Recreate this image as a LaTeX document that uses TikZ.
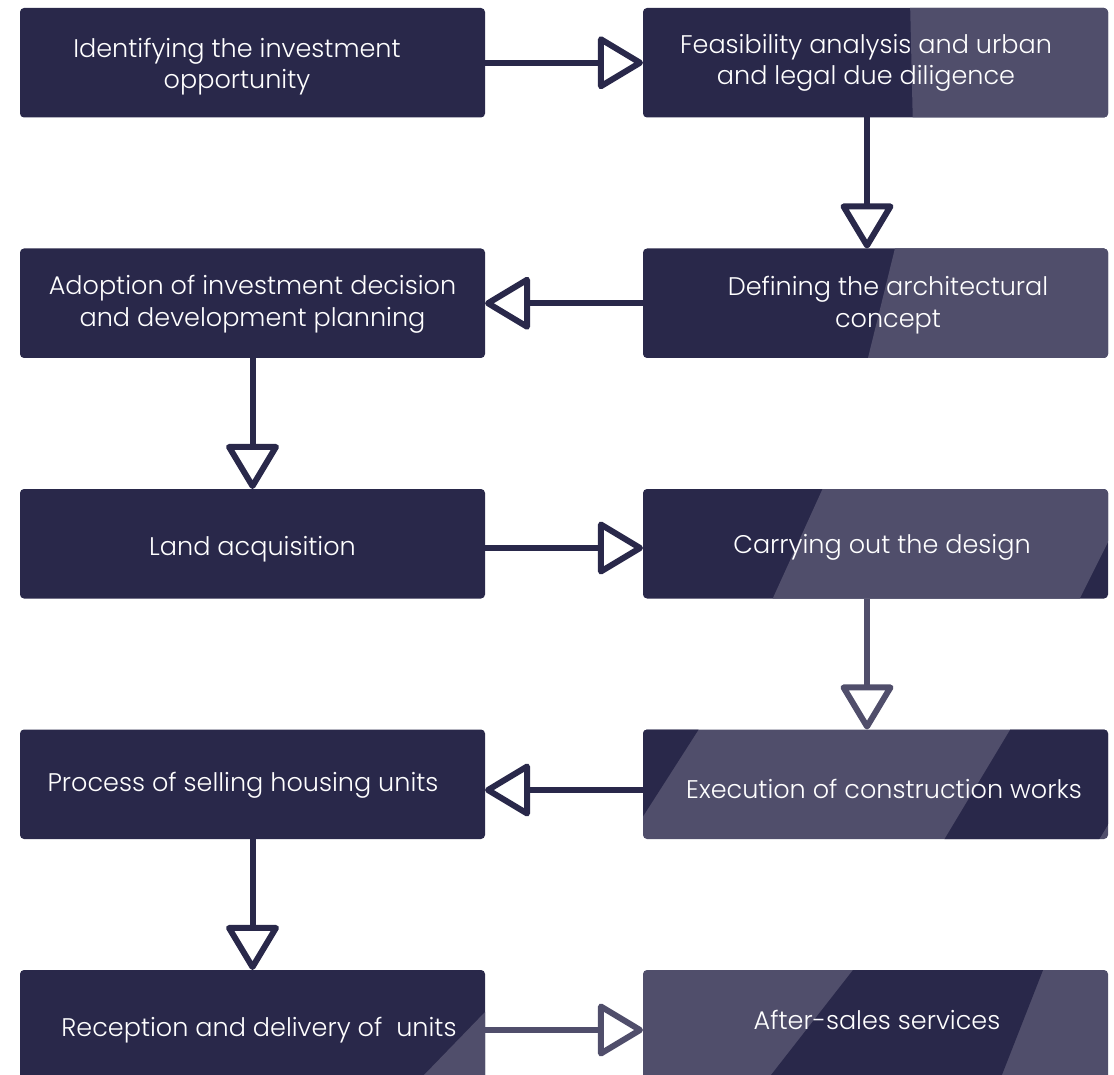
\documentclass[tikz,border=0pt]{standalone}
\usepackage{fontspec}
\IfFontExistsTF{Poppins Light}{\setmainfont{Poppins Light}}{\setmainfont{Poppins}}
\usepackage{tikz}
\usetikzlibrary{arrows.meta,positioning}
\usepackage{xcolor}
\definecolor{flownavy}{RGB}{41,40,74}
\definecolor{flowslate}{RGB}{80,78,107}
\tikzstyle{stage} = [rectangle, rounded corners=4pt, minimum width=465pt, minimum height=109.5pt, inner sep=0pt, outer sep=0pt, fill=flownavy]
\tikzstyle{stagelight} = [stage, fill=flowslate]
\tikzstyle{stagetext} = [text=white, align=center, inner sep=0pt, font=\fontsize{25.5pt}{31.5pt}\selectfont]
\tikzstyle{flow} = [line width=6pt, -{Triangle[open, round, length=48pt, width=56pt]}, color=flownavy]
\tikzstyle{flowlight} = [flow, color=flowslate]
\newcommand{\stagepatch}[3][flowslate]{%
  \begin{scope}
    \clip[rounded corners=4pt] (#2.north west) rectangle (#2.south east);
    \fill[#1] #3;
  \end{scope}}

\begin{document}
\begin{tikzpicture}[x=1pt, y=-1pt]
\useasboundingbox (0,0) rectangle (1114,1075);
\clip (0,0) rectangle (1114,1075);

% Left column
\node (spot) [stage] at (252.5,62.75) {};
\node (decision) [stage, below=131pt of spot] {};
\node (land) [stage, below=131pt of decision] {};
\node (selling) [stage, below=131pt of land] {};
\node (handover) [stage, below=131pt of selling] {};

% Right column
\node (study) [stage, right=158pt of spot] {};
\node (concept) [stage, below=131pt of study] {};
\node (design) [stage, below=131pt of concept] {};
\node (works) [stagelight, below=131pt of design] {};
\node (aftercare) [stagelight, below=131pt of works] {};

% Diagonal bands
\stagepatch{study}{(910,0) -- (1120,0) -- (1120,130) -- (913,130) -- cycle}
\stagepatch{concept}{(897,240) -- (1120,240) -- (1120,370) -- (865,370) -- cycle}
\stagepatch{design}{(826.6,480) -- (1120,480) -- (1120,518) -- (1074,610) -- (767.5,610) -- cycle}
\stagepatch[flownavy]{works}{(630,720) -- (704.7,720) -- (630,836.7) -- cycle}
\stagepatch[flownavy]{works}{(1016,720) -- (1120,720) -- (1120,804.7) -- (1092.8,850) -- (938,850) -- cycle}
\stagepatch[flownavy]{aftercare}{(856.9,965) -- (1045,965) -- (998,1085) -- (763.2,1085) -- cycle}
\stagepatch{handover}{(495,1001.7) -- (495,1085) -- (414.3,1085) -- cycle}

% Texts
\node (spottext) [stagetext, xshift=-15.5pt, yshift=-3.75pt] at (spot.center) {Identifying the investment\\opportunity};
\node (decisiontext) [stagetext, yshift=-1pt] at (decision.center) {Adoption of investment decision\\and development planning};
\node (landtext) [stagetext, yshift=-5.75pt] at (land.center) {Land acquisition};
\node (sellingtext) [stagetext, xshift=-9.5pt, yshift=-1.25pt] at (selling.center) {Process of selling housing units};
\node (handovertext) [stagetext, xshift=6.5pt, yshift=-5.75pt] at (handover.center) {Reception and delivery of~ units};
\node (studytext) [stagetext, xshift=-9.5pt] at (study.center) {Feasibility analysis and urban\\and legal due diligence};
\node (concepttext) [stagetext, xshift=12.5pt, yshift=-1.75pt] at (concept.center) {Defining the architectural\\concept};
\node (designtext) [stagetext, xshift=6.5pt, yshift=-3.75pt] at (design.center) {Carrying out the design};
\node (workstext) [stagetext, xshift=8.5pt, yshift=-4.75pt] at (works.center) {Execution of construction works};
\node (aftercaretext) [stagetext, xshift=1.5pt, yshift=5.25pt] at (aftercare.center) {After-sales services};

% Arrows
\draw[flow] (spot.east) -- (study.west);
\draw[flow] ([xshift=-8.5pt]study.south) -- ([xshift=-8.5pt]concept.north);
\draw[flow] (concept.west) -- (decision.east);
\draw[flow] (decision.south) -- (land.north);
\draw[flow] ([yshift=-4.25pt]land.east) -- ([yshift=-4.25pt]design.west);
\draw[flowlight] ([xshift=-8.5pt]design.south) -- ([xshift=-8.5pt]works.north);
\draw[flow] ([yshift=-5.75pt]works.west) -- ([yshift=-5.75pt]selling.east);
\draw[flow] (selling.south) -- (handover.north);
\draw[flowlight] ([yshift=-5.25pt]handover.east) -- ([yshift=-5.25pt]aftercare.west);
\end{tikzpicture}
\end{document}
